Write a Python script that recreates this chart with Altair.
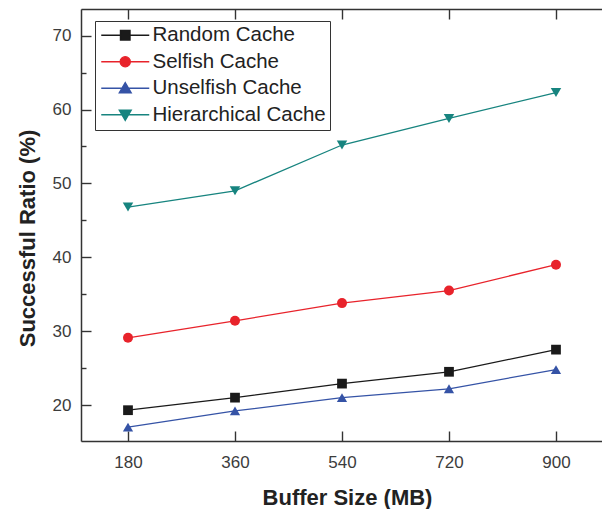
import altair as alt
import pandas as pd

# ---- data ----
buffer_sizes = [180, 360, 540, 720, 900]
series_names = ["Random Cache", "Selfish Cache", "Unselfish Cache", "Hierarchical Cache"]
random_cache = [19.3, 21.0, 22.9, 24.5, 27.5]
selfish_cache = [29.1, 31.4, 33.8, 35.5, 39.0]
unselfish_cache = [17.0, 19.2, 21.0, 22.2, 24.8]
hierarchical_cache = [46.8, 49.0, 55.2, 58.8, 62.3]
y_major_ticks = [20, 30, 40, 50, 60, 70]
y_minor_ticks = [25, 35, 45, 55, 65]

# ---- styles ----
colors = ["#1a1a1a", "#e8232b", "#3553a6", "#17847f"]
shapes = ["square", "circle", "triangle-up", "triangle-down"]
legend_paths = [
    "M-4,0H4M-0.8,-0.8H0.8V0.8H-0.8Z",
    "M-4,0H4M0.85,0A0.85,0.85,0,1,1,-0.85,0A0.85,0.85,0,1,1,0.85,0Z",
    "M-4,0H4M0,-0.95L1,0.75L-1,0.75Z",
    "M-4,0H4M0,0.95L1,-0.75L-1,-0.75Z",
]
FONT = "Liberation Sans"
W, H = 521, 432
X_DOMAIN = [100.93, 977.4]
Y_DOMAIN = [15.13, 73.615]

rows = []
for name, vals in zip(series_names, [random_cache, selfish_cache, unselfish_cache, hierarchical_cache]):
    for s, v in zip(buffer_sizes, vals):
        rows.append({"size": s, "ratio": v, "series": name})
df = pd.DataFrame(rows)

xs = alt.Scale(domain=X_DOMAIN, nice=False, zero=False)
ys = alt.Scale(domain=Y_DOMAIN, nice=False, zero=False)
cs = alt.Scale(domain=series_names, range=colors)

axis_common = dict(grid=False, tickColor="#333333", tickWidth=1.4, domainColor="#333333", domainWidth=1.5)

# Layer A: lines + labelled axes
lines = alt.Chart(df).mark_line(strokeWidth=1.3).encode(
    x=alt.X("size:Q", scale=xs, axis=alt.Axis(
        orient="bottom", values=buffer_sizes, ticks=False, tickSize=0, labelPadding=13,
        labelFont=FONT, labelFontSize=17, labelColor="#3c3c3c", labelFlush=False,
        title="Buffer Size (MB)", titleFont=FONT, titleFontSize=22, titleFontWeight="bold",
        titleColor="#222222", titleX=266, titleY=56, titleBaseline="middle", **axis_common)),
    y=alt.Y("ratio:Q", scale=ys, axis=alt.Axis(
        orient="left", values=y_major_ticks, ticks=False, tickSize=0, labelPadding=10,
        labelFont=FONT, labelFontSize=17, labelColor="#3c3c3c", labelFlush=False,
        title="Successful Ratio (%)", titleFont=FONT, titleFontSize=22, titleFontWeight="bold",
        titleColor="#222222", titleX=-54, titleY=229, titleBaseline="middle", **axis_common)),
    color=alt.Color("series:N", scale=cs, legend=None),
    detail="series:N",
)

# Layer B: markers + inward major ticks
points = alt.Chart(df).mark_point(filled=True, opacity=1, strokeWidth=0).encode(
    x=alt.X("size:Q", scale=xs, axis=alt.Axis(
        orient="top", offset=-H, values=buffer_sizes, labels=False, domain=False,
        tickSize=10, title=None, **axis_common)),
    y=alt.Y("ratio:Q", scale=ys, axis=alt.Axis(
        orient="right", offset=-W, values=y_major_ticks, labels=False, domain=False,
        tickSize=10, title=None, **axis_common)),
    color=alt.Color("series:N", scale=cs, legend=None),
    shape=alt.Shape("series:N", scale=alt.Scale(domain=series_names, range=shapes), legend=None),
    size=alt.Size("series:N", scale=alt.Scale(domain=series_names, range=[95, 110, 125, 125]), legend=None),
)

# Layer C: legend + top frame + minor ticks (no marks drawn)
leg = alt.Legend(title=None, orient="none", legendX=14, legendY=12, symbolSize=144,
                 symbolStrokeWidth=1.3, labelFont=FONT, labelFontSize=20.5, labelColor="#222222",
                 labelOffset=17, labelLimit=400, padding=4, strokeColor="#333333", fillColor="white",
                 rowPadding=5.5, symbolOffset=16, symbolOpacity=1)
legend_layer = alt.Chart(df).mark_point(size=144, strokeWidth=1.3).encode(
    x=alt.X("size:Q", scale=xs, axis=alt.Axis(
        orient="bottom", offset=-H, values=buffer_sizes, labels=False, domain=True,
        tickSize=10, title=None, **axis_common)),
    y=alt.Y("ratio:Q", scale=ys, axis=alt.Axis(
        orient="right", offset=-W, values=y_minor_ticks, labels=False, domain=False,
        tickSize=5, title=None, **axis_common)),
    fill=alt.Fill("series:N", scale=alt.Scale(domain=series_names, range=colors), legend=leg),
    stroke=alt.Stroke("series:N", scale=alt.Scale(domain=series_names, range=colors), legend=leg),
    shape=alt.Shape("series:N", scale=alt.Scale(domain=series_names, range=legend_paths), legend=leg),
).transform_filter("false")

chart = alt.layer(lines, points, legend_layer).resolve_axis(
    x="independent", y="independent"
).resolve_scale(shape="independent", fill="independent", stroke="independent").properties(
    width=W, height=H, autosize="none",
    padding={"left": 81, "top": 9, "right": 0, "bottom": 68},
).configure_view(stroke=None).configure(background="white")

chart.save("out.html", embed_options={"renderer": "svg", "actions": False})
